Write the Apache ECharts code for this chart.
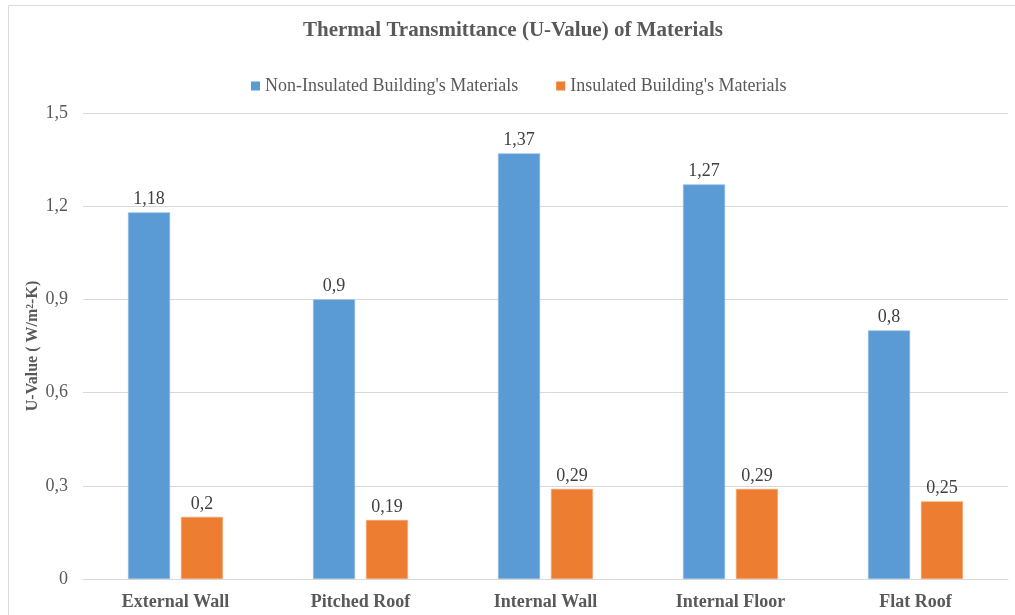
<!DOCTYPE html>
<html>
<head>
<meta charset="utf-8">
<script src="https://cdn.jsdelivr.net/npm/echarts@6/dist/echarts.min.js"></script>
<style>
  html, body { margin: 0; padding: 0; background: #fff; }
  #chart { width: 1015px; height: 615px; }
</style>
</head>
<body>
<div id="chart"></div>
<script>
// Building elements along the x axis
const categories = ['External Wall', 'Pitched Roof', 'Internal Wall', 'Internal Floor', 'Flat Roof'];
// U-values, W/m²-K
const nonInsulated = [1.18, 0.9, 1.37, 1.27, 0.8];
const insulated = [0.2, 0.19, 0.29, 0.29, 0.25];
const seriesNames = ["Non-Insulated Building's Materials", "Insulated Building's Materials"];
const yTicks = { min: 0, max: 1.5, interval: 0.3 };

const serif = '"Liberation Serif", "Times New Roman", serif';
const commaDecimal = v => String(v).replace('.', ',');

const chart = echarts.init(document.getElementById('chart'), null, { renderer: 'canvas' });

const barLabel = {
  show: true,
  position: 'top',
  distance: 4,
  fontFamily: serif,
  fontSize: 18,
  color: '#404040',
  formatter: p => commaDecimal(p.value)
};

chart.setOption({
  backgroundColor: '#ffffff',
  animation: false,
  graphic: [{
    type: 'rect',
    shape: { x: 8.5, y: 5.5, width: 1040, height: 640 },
    style: { fill: 'none', stroke: '#d9d9d9', lineWidth: 1 },
    silent: true,
    z: -1
  }],
  title: {
    text: 'Thermal Transmittance (U-Value) of Materials',
    left: 298,
    top: 15,
    textStyle: { fontFamily: serif, fontSize: 21, fontWeight: 'bold', color: '#595959' }
  },
  legend: {
    top: 72,
    left: 246,
    itemWidth: 9,
    itemHeight: 9,
    itemGap: 38,
    icon: 'rect',
    itemStyle: { borderWidth: 0 },
    textStyle: { fontFamily: serif, fontSize: 18, color: '#595959' },
    data: seriesNames
  },
  grid: { left: 83, right: 7, top: 113, bottom: 36, containLabel: false },
  xAxis: {
    type: 'category',
    data: categories,
    axisLine: { lineStyle: { color: '#d9d9d9', width: 1 } },
    axisTick: { show: false },
    axisLabel: { fontFamily: serif, fontSize: 18, fontWeight: 'bold', color: '#595959', margin: 14 }
  },
  yAxis: {
    type: 'value',
    min: yTicks.min,
    max: yTicks.max,
    interval: yTicks.interval,
    name: 'U-Value ( W/m²-K)',
    nameLocation: 'middle',
    nameGap: 42,
    nameMoveOverlap: false,
    nameTextStyle: { fontFamily: serif, fontSize: 16, fontWeight: 'bold', color: '#595959' },
    axisLine: { show: false },
    axisTick: { show: false },
    splitLine: { lineStyle: { color: '#d9d9d9', width: 1 } },
    axisLabel: {
      fontFamily: serif, fontSize: 18, color: '#595959', margin: 15,
      formatter: v => commaDecimal(Math.round(v * 10) / 10)
    }
  },
  series: [
    {
      name: seriesNames[0],
      type: 'bar',
      data: nonInsulated,
      barWidth: 42,
      barGap: '26%',
      itemStyle: { color: '#5b9bd5', borderColor: '#8fbbe4', borderWidth: 0.6 },
      label: barLabel
    },
    {
      name: seriesNames[1],
      type: 'bar',
      data: insulated,
      barWidth: 42,
      itemStyle: { color: '#ed7d31', borderColor: '#f3a877', borderWidth: 0.6 },
      label: barLabel
    }
  ]
});
</script>
</body>
</html>
